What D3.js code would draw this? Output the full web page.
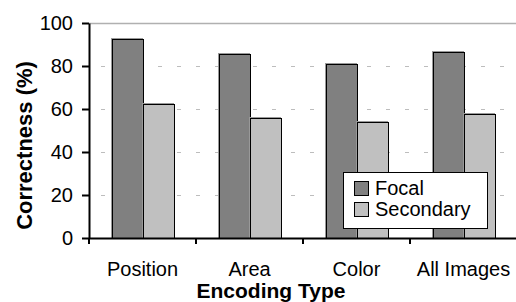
<!DOCTYPE html>
<html>
<head>
<meta charset="utf-8">
<script src="https://cdn.jsdelivr.net/npm/d3@7"></script>
<style>
  body { margin: 0; background: #fff; }
  svg text { font-family: "Liberation Sans", Arial, sans-serif; }
</style>
</head>
<body>
<div id="chart"></div>
<script>
// Data
const categories = ['Position', 'Area', 'Color', 'All Images'];
const seriesNames = ['Focal', 'Secondary'];
const focalValues = [92.7, 85.4, 80.8, 86.4];
const secondaryValues = [62.3, 55.8, 53.8, 57.5];
const yTicks = [0, 20, 40, 60, 80, 100];

const seriesValues = [focalValues, secondaryValues];
const colors = ['#808080', '#c0c0c0'];

const width = 516, height = 302;
const margin = { top: 23, right: -1, bottom: 64, left: 89 };

const svg = d3.select('#chart').append('svg')
  .attr('width', width)
  .attr('height', height);

// Scales
const x = d3.scaleBand()
  .domain(categories)
  .range([margin.left, width - margin.right])
  .paddingInner(0)
  .paddingOuter(0);

const xSub = d3.scaleBand()
  .domain(seriesNames)
  .range([0, x.bandwidth()])
  .paddingInner(0)
  .paddingOuter(0.75);

const y = d3.scaleLinear()
  .domain([0, 100])
  .range([height - margin.bottom, margin.top]);

// Grid
svg.append('g')
  .selectAll('line')
  .data(yTicks.filter(d => d > 0 && d < 100))
  .enter().append('line')
  .attr('x1', margin.left)
  .attr('x2', width)
  .attr('y1', d => y(d) + 0.5)
  .attr('y2', d => y(d) + 0.5)
  .style('stroke', '#bdbdbd')
  .style('stroke-width', 1)
  .style('stroke-dasharray', '4,15')
  .style('stroke-dashoffset', -12);

svg.append('line')
  .attr('x1', margin.left)
  .attr('x2', width)
  .attr('y1', y(100) + 0.5)
  .attr('y2', y(100) + 0.5)
  .style('stroke', '#b0b0b0')
  .style('stroke-width', 1.5);

// Bars (with a faint shadow edge like the original)
const groups = svg.append('g')
  .selectAll('g')
  .data(seriesNames)
  .enter().append('g');

groups.each(function(name, si) {
  const g = d3.select(this);
  g.selectAll('rect.shadow')
    .data(categories)
    .enter().append('rect')
    .attr('class', 'shadow')
    .attr('x', c => Math.round(x(c) + xSub(name)) - 0.5)
    .attr('y', (c, i) => Math.round(y(seriesValues[si][i])) - 0.5)
    .attr('width', Math.round(xSub.bandwidth()))
    .attr('height', (c, i) => Math.round(y(0) - y(seriesValues[si][i])))
    .style('fill', 'none')
    .style('stroke', '#999')
    .style('stroke-width', 1);
  g.selectAll('rect.bar')
    .data(categories)
    .enter().append('rect')
    .attr('class', 'bar')
    .attr('x', c => Math.round(x(c) + xSub(name)) + 0.5)
    .attr('y', (c, i) => Math.round(y(seriesValues[si][i])) + 0.5)
    .attr('width', Math.round(xSub.bandwidth()))
    .attr('height', (c, i) => Math.round(y(0) - y(seriesValues[si][i])))
    .style('fill', colors[si])
    .style('stroke', '#000')
    .style('stroke-width', 1);
});

// Axes
const yAxis = svg.append('g')
  .attr('transform', `translate(${margin.left},0)`)
  .call(d3.axisLeft(y).tickValues(yTicks).tickSize(7).tickSizeOuter(0).tickPadding(9));

const xAxis = svg.append('g')
  .attr('transform', `translate(0,${y(0)})`)
  .call(d3.axisBottom(x).tickSize(0).tickPadding(24).tickSizeOuter(0));

// category boundary ticks
xAxis.selectAll('.boundary')
  .data(categories)
  .enter().append('line')
  .attr('x1', c => x(c))
  .attr('x2', c => x(c))
  .attr('y1', 0)
  .attr('y2', 6)
  .style('stroke', '#000')
  .style('stroke-width', 2);

[xAxis, yAxis].forEach(axis => {
  axis.select('.domain')
    .style('stroke', '#000')
    .style('stroke-width', 2);
  axis.selectAll('line')
    .style('stroke', '#000')
    .style('stroke-width', 2);
  axis.selectAll('text')
    .style('fill', '#000')
    .style('font-size', '20px');
});

// Axis titles
svg.append('text')
  .attr('transform', `translate(32,${(y(0) + y(100)) / 2 + 15}) rotate(-90)`)
  .attr('text-anchor', 'middle')
  .style('font-size', '22px')
  .style('font-weight', 'bold')
  .text('Correctness (%)');

svg.append('text')
  .attr('x', 271)
  .attr('y', 298)
  .attr('text-anchor', 'middle')
  .style('font-size', '21px')
  .style('font-weight', 'bold')
  .text('Encoding Type');

// Legend
const legend = svg.append('g')
  .attr('transform', 'translate(343,172)');

legend.append('rect')
  .attr('x', 0.5)
  .attr('y', 0.5)
  .attr('width', 144)
  .attr('height', 56)
  .style('fill', '#fff')
  .style('stroke', '#000')
  .style('stroke-width', 1);

seriesNames.forEach((name, i) => {
  const item = legend.append('g')
    .attr('transform', `translate(11, ${9 + i * 21})`);
  item.append('rect')
    .attr('x', 0.5)
    .attr('y', 0.5)
    .attr('width', 14)
    .attr('height', 14)
    .style('fill', colors[i])
    .style('stroke', '#000');
  item.append('text')
    .attr('x', 21)
    .attr('y', 14)
    .style('font-size', '20px')
    .text(name);
});
</script>
</body>
</html>
